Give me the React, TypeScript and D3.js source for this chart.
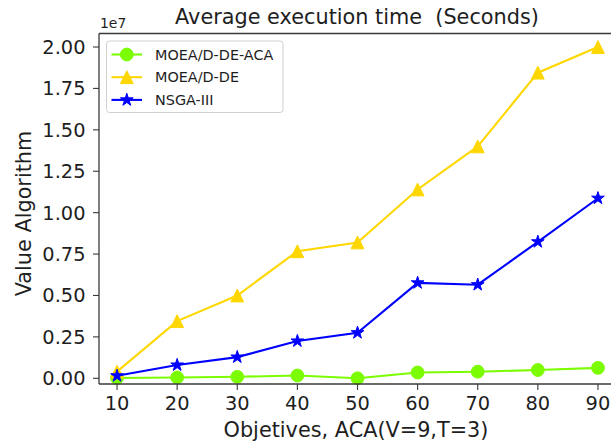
import React from "react";
import * as d3 from "d3";

// Number of objectives on the x axis
const objectives = [10, 20, 30, 40, 50, 60, 70, 80, 90];

// Average execution time per algorithm (seconds, in units of 1e7)
const moeadDeAca = [0.002, 0.005, 0.009, 0.017, 0.0, 0.035, 0.04, 0.05, 0.063];
const moeadDe = [0.04, 0.345, 0.5, 0.767, 0.82, 1.14, 1.4, 1.845, 2.0];
const nsga3 = [0.015, 0.08, 0.128, 0.225, 0.275, 0.576, 0.565, 0.824, 1.087];

const yTicks = [0, 0.25, 0.5, 0.75, 1.0, 1.25, 1.5, 1.75, 2.0];
const xTicks = [10, 20, 30, 40, 50, 60, 70, 80, 90];

const seriesNames = ["MOEA/D-DE-ACA", "MOEA/D-DE", "NSGA-III"];

const W = 611;
const H = 443;
const FONT = "DejaVu Sans, sans-serif";

type Shape = "circle" | "triangle" | "star";

function Marker({ shape, x, y, color }: { shape: Shape; x: number; y: number; color: string }) {
  if (shape === "circle") {
    return <circle cx={x} cy={y} r={6.4} fill={color} stroke={color} strokeWidth={1} />;
  }
  if (shape === "triangle") {
    const s = 6.4;
    return (
      <path
        d={`M${x},${y - s}L${x - s},${y + s}L${x + s},${y + s}Z`}
        fill={color}
        stroke={color}
        strokeWidth={1}
        strokeLinejoin="miter"
      />
    );
  }
  const star = d3.symbol().type(d3.symbolStar).size(50)();
  return <path d={star || ""} transform={`translate(${x},${y})`} fill={color} stroke={color} strokeWidth={1} />;
}

export default function App() {
  const left = 99;
  const right = 616;
  const top = 33.5;
  const bottom = 384;

  const x = d3.scaleLinear().domain([7, 93]).range([left, right]);
  const y = d3.scaleLinear().domain([-0.0344, 2.0815]).range([bottom, top]);

  const line = d3
    .line<number>()
    .x((_, i) => x(objectives[i]))
    .y((d) => y(d));

  const series: { name: string; values: number[]; color: string; shape: Shape }[] = [
    { name: seriesNames[0], values: moeadDeAca, color: "#7CFC00", shape: "circle" },
    { name: seriesNames[1], values: moeadDe, color: "#FFD700", shape: "triangle" },
    { name: seriesNames[2], values: nsga3, color: "#0000FF", shape: "star" },
  ];

  const axisColor = "#3a3a3a";
  const tickLen = 6;
  const textColor = "#1e1e1e";

  return (
    <svg
      width={W}
      height={H}
      style={{ position: "absolute", left: 0, top: 0, background: "#fff" }}
      fontFamily={FONT}
    >
      <rect x={0} y={0} width={W} height={H} fill="#fff" />

      {/* title */}
      <text x={357} y={24} textAnchor="middle" fontSize={20.8} fill={textColor} style={{ whiteSpace: "pre" }}>
        {"Average execution time  (Seconds)"}
      </text>

      {/* offset text */}
      <text x={100} y={28} fontSize={13.9} fill={textColor}>
        1e7
      </text>

      {/* series */}
      <g>
        {series.map((s) => (
          <g key={s.name}>
            <path d={line(s.values) || ""} fill="none" stroke={s.color} strokeWidth={2.1} />
            {s.values.map((v, i) => (
              <Marker key={i} shape={s.shape} x={x(objectives[i])} y={y(v)} color={s.color} />
            ))}
          </g>
        ))}
      </g>

      {/* spines */}
      <line x1={left} x2={left} y1={top} y2={bottom} stroke={axisColor} strokeWidth={1.3} />
      <line x1={left} x2={W} y1={bottom} y2={bottom} stroke={axisColor} strokeWidth={1.3} />
      <line x1={left} x2={W} y1={top} y2={top} stroke={axisColor} strokeWidth={1.3} />

      {/* y ticks */}
      {yTicks.map((t) => (
        <g key={t}>
          <line x1={left - tickLen} x2={left} y1={y(t)} y2={y(t)} stroke={axisColor} strokeWidth={1.1} />
          <text x={left - 13.5} y={y(t)} dy="0.36em" textAnchor="end" fontSize={19.4} fill={textColor}>
            {t.toFixed(2)}
          </text>
        </g>
      ))}

      {/* x ticks */}
      {xTicks.map((t) => (
        <g key={t}>
          <line x1={x(t)} x2={x(t)} y1={bottom} y2={bottom + tickLen} stroke={axisColor} strokeWidth={1.1} />
          <text x={x(t)} y={410} textAnchor="middle" fontSize={19.4} fill={textColor}>
            {t}
          </text>
        </g>
      ))}

      {/* axis labels */}
      <text x={356} y={437} textAnchor="middle" fontSize={20.8} fill={textColor}>
        Objetives, ACA(V=9,T=3)
      </text>
      <text
        transform={`translate(31,213.5) rotate(-90)`}
        textAnchor="middle"
        fontSize={20.8}
        fill={textColor}
      >
        Value Algorithm
      </text>

      {/* legend */}
      <g>
        <rect x={106.5} y={41} width={176.5} height={71.5} rx={3} fill="#fff" fillOpacity={0.85} stroke="#d0d0d0" />
        {series.map((s, i) => {
          const ly = 54.5 + i * 22.7;
          return (
            <g key={s.name}>
              <line x1={111.5} x2={142} y1={ly} y2={ly} stroke={s.color} strokeWidth={2.1} />
              <Marker shape={s.shape} x={126.8} y={ly} color={s.color} />
              <text x={155} y={ly} dy="0.36em" fontSize={14.4} fill={textColor}>
                {s.name}
              </text>
            </g>
          );
        })}
      </g>
    </svg>
  );
}
